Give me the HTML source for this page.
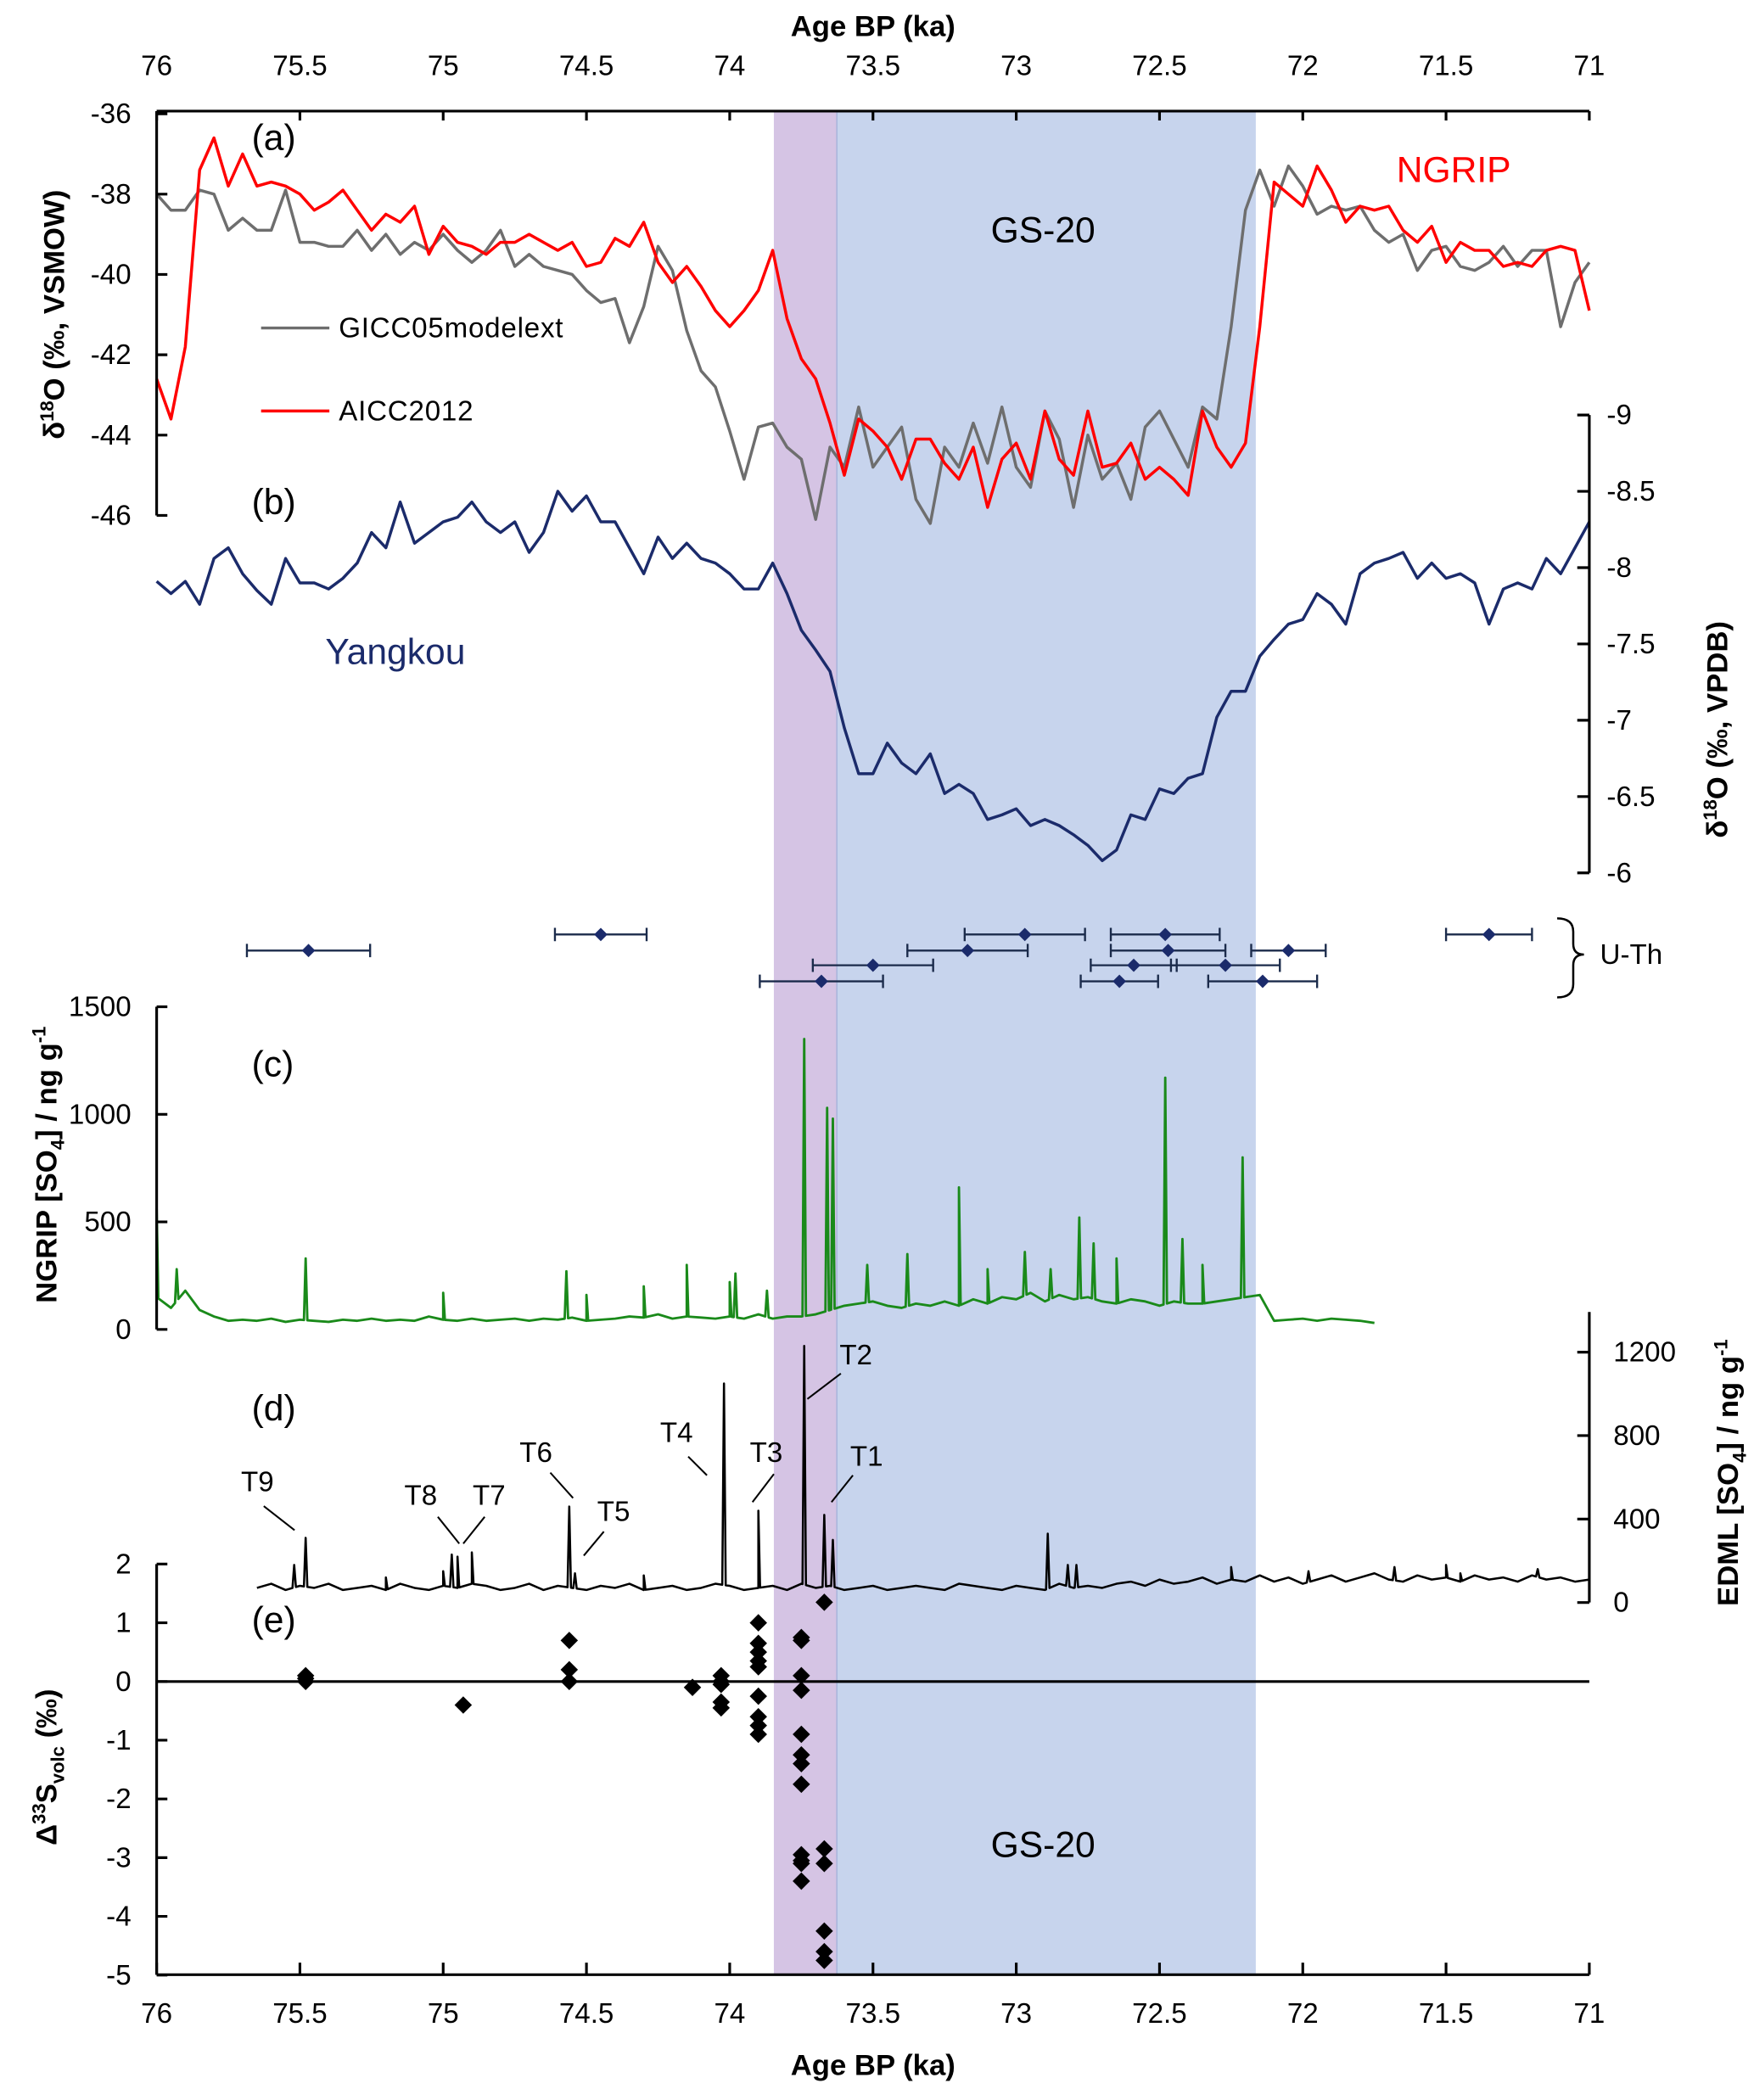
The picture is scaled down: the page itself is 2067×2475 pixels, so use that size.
<!DOCTYPE html>
<html><head><meta charset="utf-8">
<style>
html,body{margin:0;padding:0;background:#fff;}
svg{display:block;}
text{font-family:"Liberation Sans",sans-serif;}
</style></head>
<body>
<svg id="chart" width="2067" height="2475" viewBox="0 0 1310 1568.6" preserveAspectRatio="none" xmlns="http://www.w3.org/2000/svg">
<g id="bands"></g>
<g id="plot"></g>
<g id="axes"></g>
<g id="labels"></g>
</svg>
<script>
// ---------- DATA ----------
const gridStart = 76, gridStep = 0.05;
const aiccValues = [-42.6,-43.6,-41.8,-37.4,-36.6,-37.8,-37.0,-37.8,-37.7,-37.8,-38.0,-38.4,-38.2,-37.9,-38.4,-38.9,-38.5,-38.7,-38.3,-39.5,-38.8,-39.2,-39.3,-39.5,-39.2,-39.2,-39.0,-39.2,-39.4,-39.2,-39.8,-39.7,-39.1,-39.3,-38.7,-39.7,-40.2,-39.8,-40.3,-40.9,-41.3,-40.9,-40.4,-39.4,-41.1,-42.1,-42.6,-43.7,-45.0,-43.6,-43.9,
-44.3,-45.1,-44.1,-44.1,-44.7,-45.1,-44.3,-45.8,-44.6,-44.2,-45.1,-43.4,-44.6,-45.0,-43.4,-44.8,-44.7,-44.2,-45.1,-44.8,-45.1,-45.5,-43.4,-44.3,-44.8,-44.2,-41.3,-37.7,-38.0,-38.3,-37.3,-37.9,-38.7,-38.3,-38.4,-38.3,-38.9,-39.2,-38.8,-39.7,-39.2,-39.4,-39.4,-39.8,-39.7,-39.8,-39.4,-39.3,-39.4,-40.9];
const giccValues = [-38.0,-38.4,-38.4,-37.9,-38.0,-38.9,-38.6,-38.9,-38.9,-37.9,-39.2,-39.2,-39.3,-39.3,-38.9,-39.4,-39.0,-39.5,-39.2,-39.4,-39.0,-39.4,-39.7,-39.4,-38.9,-39.8,-39.5,-39.8,-39.9,-40.0,-40.4,-40.7,-40.6,-41.7,-40.8,-39.3,-39.9,-41.4,-42.4,-42.8,-43.9,-45.1,-43.8,-43.7,-44.3,-44.6,-46.1,-44.3,-44.8,-43.3,-44.8,
-44.3,-43.8,-45.6,-46.2,-44.3,-44.8,-43.7,-44.7,-43.3,-44.8,-45.3,-43.4,-44.1,-45.8,-44.0,-45.1,-44.7,-45.6,-43.8,-43.4,-44.1,-44.8,-43.3,-43.6,-41.3,-38.4,-37.4,-38.3,-37.3,-37.8,-38.5,-38.3,-38.4,-38.3,-38.9,-39.2,-39.0,-39.9,-39.4,-39.3,-39.8,-39.9,-39.7,-39.3,-39.8,-39.4,-39.4,-41.3,-40.2,-39.7];
const yangkouValues = [-7.91,-7.83,-7.91,-7.76,-8.06,-8.13,-7.96,-7.85,-7.76,-8.06,-7.90,-7.90,-7.86,-7.93,-8.03,-8.23,-8.13,-8.43,-8.16,-8.23,-8.30,-8.33,-8.43,-8.30,-8.23,-8.30,-8.10,-8.23,-8.50,-8.37,-8.47,-8.30,-8.30,-8.13,-7.96,-8.20,-8.06,-8.16,-8.06,-8.03,-7.96,-7.86,-7.86,-8.03,-7.83,-7.59,-7.46,-7.32,-6.95,-6.65,-6.65,
-6.85,-6.72,-6.65,-6.78,-6.52,-6.58,-6.52,-6.35,-6.38,-6.42,-6.31,-6.35,-6.31,-6.25,-6.18,-6.08,-6.15,-6.38,-6.35,-6.55,-6.52,-6.62,-6.65,-7.02,-7.19,-7.19,-7.42,-7.53,-7.63,-7.66,-7.83,-7.76,-7.63,-7.96,-8.03,-8.06,-8.10,-7.93,-8.03,-7.93,-7.96,-7.90,-7.63,-7.86,-7.90,-7.86,-8.06,-7.96,-8.13,-8.30];
const uthAges = [75.47,74.45,72.97,73.17,73.50,73.68,72.48,72.47,72.59,72.64,72.27,72.14,72.05,71.35];
const uthErrors = [0.215,0.16,0.21,0.21,0.21,0.215,0.19,0.20,0.15,0.135,0.19,0.19,0.13,0.15];
const uthRows = [1,0,0,1,2,3,0,1,2,3,2,3,1,0];
const ngripBase = [150,100,180,90,60,40,45,40,50,35,45,40,35,45,40,50,40,45,40,60,45,40,50,40,45,50,40,50,45,55,40,45,50,60,55,70,50,60,55,50,60,50,70,50,60,60,70,90,110,120,130,110,100,120,110,130,110,140,120,150,140,170,130,160,140,150,130,120,140,130,110,130,120,120,130,140,150,160,40,45,50,40,50,45,40,30];
const ngripSpikeAges = [76.0,75.93,75.48,75.0,74.57,74.5,74.3,74.15,74.0,73.98,73.87,73.74,73.66,73.64,73.52,73.38,73.2,73.1,72.97,72.88,72.78,72.73,72.65,72.48,72.42,72.35,72.21];
const ngripSpikeValues = [560,280,330,170,270,160,200,300,220,260,180,1350,1030,980,300,350,660,280,360,280,520,400,330,1170,420,300,800];
const edmlStart = 75.65;
const edmlBase = [70,90,60,80,70,90,60,70,80,60,90,70,60,80,70,90,80,60,70,90,60,80,70,60,80,70,90,60,70,80,60,70,90,80,60,70,80,60,90,70,80,60,70,80,60,70,80,70,60,90,80,70,60,80,70,60,90,70,80,70,90,100,80,110,90,100,120,90,110,100,130,100,120,90,110,130,100,120,140,110,100,130,110,120,100,130,110,120,100,130,110,120,100,110];
const edmlSpikeAges = [75.52,75.48,75.2,75.0,74.97,74.95,74.9,74.56,74.54,74.3,74.02,73.9,73.74,73.67,73.64,72.89,72.82,72.79,72.25,71.98,71.68,71.5,71.45,71.18];
const edmlSpikeValues = [180,310,120,150,230,220,240,460,140,130,1050,440,1230,420,300,330,180,180,170,150,170,180,140,160];
const d33Ages = [75.48,75.48,75.48,74.93,74.56,74.56,74.56,74.13,74.03,74.03,74.03,74.03,74.03,73.9,73.9,73.9,73.9,73.9,73.9,73.9,73.9,73.9,73.75,73.75,73.75,73.75,73.75,73.75,73.75,73.75,73.75,73.75,73.75,73.75,73.67,73.67,73.67,73.67,73.67,73.67];
const d33Values = [0.1,0.05,0.0,-0.4,0.7,0.2,0.0,-0.1,0.1,0.0,-0.05,-0.35,-0.45,1.0,0.65,0.5,0.35,0.25,-0.25,-0.6,-0.75,-0.9,0.75,0.7,0.1,-0.15,-0.9,-1.25,-1.4,-1.75,-2.95,-3.05,-3.1,-3.4,1.35,-2.85,-3.1,-4.25,-4.6,-4.75];
const xTicks = [76,75.5,75,74.5,74,73.5,73,72.5,72,71.5,71];
const aTicks = [-36,-38,-40,-42,-44,-46];
const bTicks = [-9,-8.5,-8,-7.5,-7,-6.5,-6];
const cTicks = [0,500,1000,1500];
const dTicks = [0,400,800,1200];
const eTicks = [2,1,0,-1,-2,-3,-4,-5];
const purpleBand = [73.846,73.626];
const blueBand = [73.626,72.164];

// ---------- SCALES ----------
const X = a => 117 + (76 - a) * 214;
const Ya = v => 85 + (-36 - v) * 30;
const Yb = v => 310 + (v + 9) * 114;
const Yc = v => 993 - v * 241 / 1500;
const Yd = v => 1197 - v * 187 / 1200;
const Ye = v => 1256 - v * 43.86;
const NS = "http://www.w3.org/2000/svg";
function mk(tag, attrs, parent, txt){
  const e = document.createElementNS(NS, tag);
  for (const k in attrs) e.setAttribute(k, attrs[k]);
  if (txt !== undefined) e.textContent = txt;
  document.getElementById(parent).appendChild(e);
  return e;
}
function pts(arr){ return arr.map(p => p[0].toFixed(2)+","+p[1].toFixed(2)).join(" "); }

// bands
let e = mk("rect",{x:X(purpleBand[0]),y:83,width:X(purpleBand[1])-X(purpleBand[0]),height:1392,fill:"#d5c4e4"},"bands");


e = mk("rect",{x:X(blueBand[0]),y:83,width:X(blueBand[1])-X(blueBand[0]),height:1392,fill:"#c7d4ed"},"bands");


mk("line",{x1:X(blueBand[0]),x2:X(blueBand[0]),y1:83,y2:1475,stroke:"#a9b6dc","stroke-width":1},"bands");

// series (a)
function gridPts(vals, start, yf){ return vals.map((v,i)=>[X(start - i*gridStep), yf(v)]); }
e = mk("polyline",{points:pts(gridPts(giccValues,gridStart,Ya)),fill:"none",stroke:"#6e6e6e","stroke-width":2.2,"stroke-linejoin":"round"},"plot");


e = mk("polyline",{points:pts(gridPts(aiccValues,gridStart,Ya)),fill:"none",stroke:"#ff0000","stroke-width":2.2,"stroke-linejoin":"round"},"plot");


// (b)
e = mk("polyline",{points:pts(gridPts(yangkouValues,gridStart,Yb)),fill:"none",stroke:"#1b2b6b","stroke-width":2.2,"stroke-linejoin":"round"},"plot");



// spiky series builder
function spiky(base, start, sAges, sVals, yf){
  const baseAt = a => { const f=(start-a)/gridStep; const i=Math.max(0,Math.min(base.length-2,Math.floor(f))); const t=f-i; return base[i]*(1-t)+base[i+1]*t; };
  const list = base.map((v,i)=>[start - i*gridStep, v]);
  const end = start - (base.length-1)*gridStep;
  sAges.forEach((a,k)=>{
    const a1=Math.min(start,a+0.006), a2=Math.max(end,a-0.006);
    list.push([a1, baseAt(a1)]); list.push([a, sVals[k]]); list.push([a2, baseAt(a2)]);
  });
  list.sort((p,q)=>q[0]-p[0]);
  return list.map(p=>[X(p[0]), yf(p[1])]);
}
e = mk("polyline",{points:pts(spiky(ngripBase,gridStart,ngripSpikeAges,ngripSpikeValues,Yc)),fill:"none",stroke:"#1a8a1a","stroke-width":1.8,"stroke-linejoin":"round"},"plot");


e = mk("polyline",{points:pts(spiky(edmlBase,edmlStart,edmlSpikeAges,edmlSpikeValues,Yd)),fill:"none",stroke:"#000","stroke-width":1.6,"stroke-linejoin":"round"},"plot");



// U-Th
const rowY = [698,710,721,733];
uthAges.forEach((a,i)=>{
  const y=rowY[uthRows[i]], x1=X(a+uthErrors[i]), x2=X(a-uthErrors[i]);
  const g = mk("g",{},"plot");
  
  
  const l = document.createElementNS(NS,"path");
  l.setAttribute("d",`M${x1},${y}H${x2}M${x1},${y-5}V${y+5}M${x2},${y-5}V${y+5}`);
  l.setAttribute("stroke","#1b2b4b"); l.setAttribute("stroke-width","1.5"); l.setAttribute("fill","none");
  g.appendChild(l);
  const d = document.createElementNS(NS,"path");
  const cx=X(a);
  d.setAttribute("d",`M${cx},${y-5}L${cx+5},${y}L${cx},${y+5}L${cx-5},${y}Z`);
  d.setAttribute("fill","#1b2b6b");
  g.appendChild(d);
});
// Δ33S
d33Ages.forEach((a,i)=>{
  const cx=X(a), cy=Ye(d33Values[i]);
  const d = mk("path",{d:`M${cx},${cy-6.5}L${cx+6.5},${cy}L${cx},${cy+6.5}L${cx-6.5},${cy}Z`,fill:"#000"},"plot");
  
  
});

// ---------- AXES ----------
const ax = {stroke:"#000","stroke-width":2,fill:"none"};
function axisLine(d,name){ const p=mk("path",Object.assign({d:d},ax),"axes");   }
function txt(x,y,s,opts,name){ const t=mk("text",Object.assign({x:x,y:y,"font-size":21,fill:"#000"},opts||{}),"labels",s);   return t; }
// top
let d="M117,83H1187"; xTicks.forEach(t=>{d+=`M${X(t)},83V90`;}); axisLine(d,"top-x-axis");
xTicks.forEach(t=>txt(X(t),56,String(t),{"text-anchor":"middle"},"top-x-tick-label"));
txt(652,27,"Age BP (ka)",{"text-anchor":"middle","font-weight":"bold","font-size":22},"top-x-axis-title");
// bottom
d="M117,1475H1187"; xTicks.forEach(t=>{d+=`M${X(t)},1475V1466`;}); axisLine(d,"bottom-x-axis");
xTicks.forEach(t=>txt(X(t),1511,String(t),{"text-anchor":"middle"},"bottom-x-tick-label"));
txt(652,1550,"Age BP (ka)",{"text-anchor":"middle","font-weight":"bold","font-size":22},"bottom-x-axis-title");
// (a) left
d=`M117,83V${Ya(-46)}`; aTicks.forEach(t=>{d+=`M117,${Ya(t)}H125`;}); axisLine(d,"a-y-axis");
aTicks.forEach(t=>txt(98,Ya(t)+7,String(t),{"text-anchor":"end"},"a-y-tick-label"));
// (b) right
d=`M1187,${Yb(-9)}V${Yb(-6)}`; bTicks.forEach(t=>{d+=`M1187,${Yb(t)}H1178`;}); axisLine(d,"b-y-axis");
bTicks.forEach(t=>txt(1200,Yb(t)+7,String(t),{"text-anchor":"start"},"b-y-tick-label"));
// (c) left
d=`M117,${Yc(1500)}V${Yc(0)}`; cTicks.forEach(t=>{d+=`M117,${Yc(t)}H125`;}); axisLine(d,"c-y-axis");
cTicks.forEach(t=>txt(98,Yc(t)+7,String(t),{"text-anchor":"end"},"c-y-tick-label"));
// (d) right
d=`M1187,980V${Yd(0)}`; dTicks.forEach(t=>{d+=`M1187,${Yd(t)}H1178`;}); axisLine(d,"d-y-axis");
dTicks.forEach(t=>txt(1205,Yd(t)+7,String(t),{"text-anchor":"start"},"d-y-tick-label"));
// (e) left
d=`M117,${Ye(2)}V1475`; eTicks.forEach(t=>{d+=`M117,${Ye(t)}H125`;}); axisLine(d,"e-y-axis");
eTicks.forEach(t=>txt(98,Ye(t)+7,String(t),{"text-anchor":"end"},"e-y-tick-label"));
axisLine(`M117,${Ye(0)}H1187`,"zero-line");

// y titles
function ytitle(cx,cy,html,name){
  const t=mk("text",{x:0,y:0,transform:`translate(${cx},${cy}) rotate(-90)`,"text-anchor":"middle","font-size":22,"font-weight":"bold",fill:"#000"},"labels");
  t.innerHTML=html;  
}
ytitle(48,235,'δ<tspan dy="-8" font-size="14">18</tspan><tspan dy="8">O (‰, VSMOW)</tspan>',"a-y-axis-title");
ytitle(42,870,'NGRIP [SO<tspan dy="6" font-size="14">4</tspan><tspan dy="-6">] / ng g</tspan><tspan dy="-8" font-size="14">-1</tspan>',"c-y-axis-title");
ytitle(42,1320,'Δ<tspan dy="-8" font-size="14">33</tspan><tspan dy="8">S</tspan><tspan dy="6" font-size="14">volc</tspan><tspan dy="-6"> (‰)</tspan>',"e-y-axis-title");
ytitle(1290,545,'δ<tspan dy="-8" font-size="14">18</tspan><tspan dy="8">O (‰, VPDB)</tspan>',"b-y-axis-title");
ytitle(1298,1100,'EDML [SO<tspan dy="6" font-size="14">4</tspan><tspan dy="-6">] / ng g</tspan><tspan dy="-8" font-size="14">-1</tspan>',"d-y-axis-title");

// panel labels & annotations
[["(a)",188,112],["(b)",188,384],["(c)",188,804],["(d)",188,1061],["(e)",188,1219]].forEach(p=>txt(p[1],p[2],p[0],{"font-size":27},"panel-label"));
txt(1043,136,"NGRIP",{"font-size":27,fill:"#ff0000"},"ngrip-label");
txt(740,181,"GS-20",{"font-size":27},"gs20-label-top");
txt(740,1387,"GS-20",{"font-size":27},"gs20-label-bottom");
txt(243,496,"Yangkou",{"font-size":27,fill:"#1b2b6b"},"yangkou-label");
// legend
let lg=mk("line",{x1:195,x2:246,y1:245,y2:245,stroke:"#6e6e6e","stroke-width":2.2},"labels");
 
txt(253,252,"GICC05modelext",{"font-size":21,"letter-spacing":"0.5"},"legend-gicc05-label");
lg=mk("line",{x1:195,x2:246,y1:307,y2:307,stroke:"#ff0000","stroke-width":2.2},"labels");
 
txt(253,314,"AICC2012",{"font-size":21,"letter-spacing":"0.5"},"legend-aicc2012-label");
// U-Th bracket
let br=mk("path",{d:"M1163,686 Q1175,686 1175,696 V705 Q1175,713 1183,713 Q1175,713 1175,721 V735 Q1175,745 1163,745",fill:"none",stroke:"#000","stroke-width":1.6},"labels");
 
txt(1195,720,"U-Th",{"font-size":21},"uth-label");
// tephra labels
const tl=[["T9",180,1114,197,1125,220,1143],["T8",302,1124,327,1133,343,1153],["T7",353,1124,362,1133,346,1153],["T6",388,1092,411,1100,428,1119],["T5",446,1136,451,1144,436,1162],["T4",493,1077,514,1088,528,1102],["T3",560,1092,578,1101,562,1122],["T2",627,1019,628,1026,603,1045],["T1",635,1095,637,1102,621,1122]];
tl.forEach(t=>{
  txt(t[1],t[2],t[0],{"font-size":21},"tephra-label-"+t[0].toLowerCase());
  const l=mk("line",{x1:t[3],y1:t[4],x2:t[5],y2:t[6],stroke:"#000","stroke-width":1.3},"labels");
   
});
</script>
</body></html>
